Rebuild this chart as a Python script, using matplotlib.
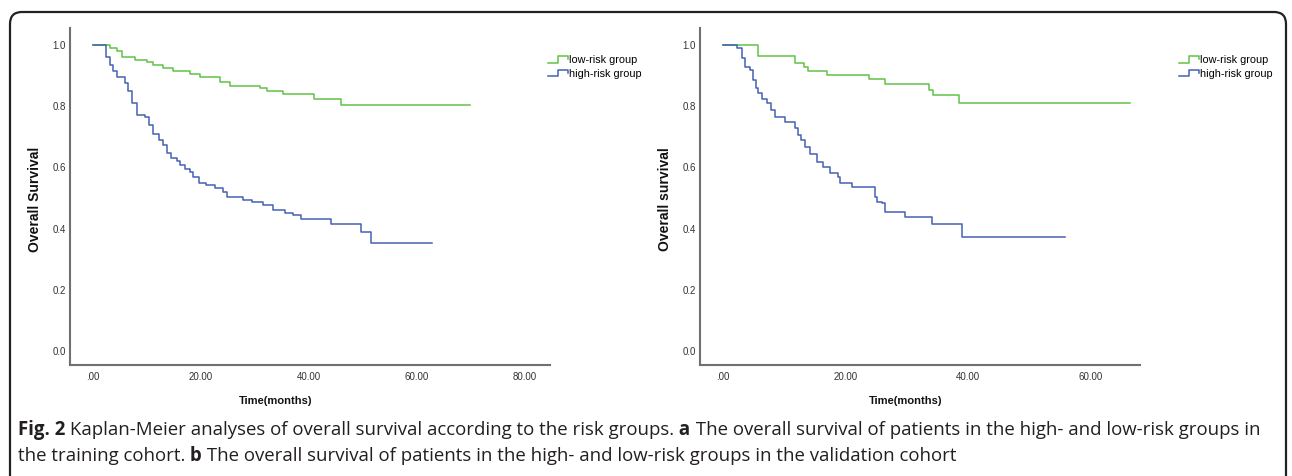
import numpy as np
import matplotlib as mpl
mpl.use('agg')
import matplotlib.pyplot as plt
from matplotlib.patches import FancyBboxPatch
from matplotlib.lines import Line2D
from matplotlib.legend_handler import HandlerBase

# ---- data (months, survival) ----
train_low_t = [0, 3.1, 4.4, 5.4, 7.8, 10.0, 11.1, 13.0, 14.8, 18.0, 19.8, 23.5, 25.4,
               31.0, 32.2, 35.2, 41.0, 46.0, 69.8]
train_low_s = [1.0, 0.99, 0.98, 0.96, 0.95, 0.945, 0.935, 0.925, 0.915, 0.905, 0.895,
               0.88, 0.866, 0.86, 0.85, 0.84, 0.823, 0.804, 0.804]

train_high_t = [0, 2.4, 3.1, 3.7, 4.4, 5.9, 6.5, 7.3, 8.1, 9.6, 10.4, 11.1, 12.2, 13.0,
                13.7, 14.5, 15.5, 16.1, 17.0, 18.0, 18.5, 19.6, 21.0, 22.5, 24.1, 24.8,
                27.8, 29.4, 31.5, 33.3, 35.5, 37.0, 38.5, 44.0, 49.6, 51.5, 62.8]
train_high_s = [1.0, 0.96, 0.935, 0.915, 0.895, 0.876, 0.85, 0.81, 0.77, 0.765, 0.74,
                0.71, 0.69, 0.675, 0.647, 0.63, 0.62, 0.608, 0.595, 0.585, 0.57, 0.55,
                0.543, 0.533, 0.52, 0.503, 0.493, 0.487, 0.477, 0.46, 0.452, 0.445,
                0.43, 0.415, 0.39, 0.353, 0.353]

valid_low_t = [0, 5.7, 11.7, 13.2, 13.9, 17.0, 23.8, 26.4, 33.6, 34.3, 38.5, 66.4]
valid_low_s = [1.0, 0.964, 0.94, 0.93, 0.915, 0.902, 0.889, 0.873, 0.853, 0.837, 0.81, 0.81]

valid_high_t = [0, 2.3, 3.1, 3.6, 4.4, 4.9, 5.4, 5.7, 6.4, 7.2, 7.8, 8.5, 10.1, 11.7,
                12.2, 12.8, 13.4, 14.2, 15.3, 16.3, 17.5, 18.8, 19.1, 21.0, 24.8, 25.1,
                25.9, 26.4, 29.7, 34.1, 39.0, 55.8]
valid_high_s = [1.0, 0.99, 0.957, 0.93, 0.918, 0.885, 0.86, 0.843, 0.823, 0.81, 0.788,
                0.765, 0.75, 0.729, 0.706, 0.69, 0.667, 0.643, 0.618, 0.601, 0.583,
                0.569, 0.549, 0.536, 0.503, 0.487, 0.483, 0.454, 0.438, 0.415, 0.373,
                0.373]

group_labels = ['low-risk group', 'high-risk group']
ytick_vals = [0.0, 0.2, 0.4, 0.6, 0.8, 1.0]
train_xticks = [0, 20, 40, 60, 80]
valid_xticks = [0, 20, 40, 60]

green = '#62c246'
blue = '#4461b5'

W, H = 1292, 476
plt.rcParams['font.family'] = ['Liberation Sans', 'DejaVu Sans']
fig = plt.figure(figsize=(W / 100, H / 100), dpi=100)


class StepHandler(HandlerBase):
    def create_artists(self, legend, orig_handle, xdescent, ydescent, width, height,
                       fontsize, trans):
        lo, hi, mid = 0.15 * height, 0.85 * height, 0.5 * height
        xs = [0, 0.5 * width, 0.5 * width, width, width]
        ys = [lo, lo, hi, hi, mid]
        ln = Line2D(np.array(xs) - xdescent, np.array(ys) - ydescent,
                    color=orig_handle.get_color(), lw=1.1, transform=trans)
        return [ln]


def km_panel(rect, xlim, xticks, low_t, low_s, high_t, high_s, ylabel, leg_xy):
    ax = fig.add_axes(rect)
    l1, = ax.plot(low_t, low_s, drawstyle='steps-post', color=green, lw=1.1)
    l2, = ax.plot(high_t, high_s, drawstyle='steps-post', color=blue, lw=1.1)
    ax.set_xlim(*xlim)
    ax.set_ylim(-0.046, 1.056)
    ax.set_xticks(xticks)
    ax.set_xticklabels(['.00' if v == 0 else f'{v:.2f}' for v in xticks])
    ax.set_yticks(ytick_vals)
    ax.set_yticklabels([f'{v:.1f}' for v in ytick_vals])
    ax.tick_params(length=0, labelsize=7, colors='#333333')
    ax.tick_params(axis='y', pad=3)
    ax.tick_params(axis='x', pad=5)
    for s in ['top', 'right']:
        ax.spines[s].set_visible(False)
    for s in ['left', 'bottom']:
        ax.spines[s].set_color('#707070')
        ax.spines[s].set_linewidth(1.5)
    fig.text(leg_xy[0] / W, 1 - 401 / H, 'Time(months)', ha='center', va='center',
             fontsize=8, fontweight='bold', color='#111111')
    fig.text(rect[0] - 35 / W, 1 - 199 / H, ylabel, rotation=90, ha='center',
             va='center', fontsize=10, fontweight='bold', color='#111111')
    ax.legend([l1, l2], group_labels, handler_map={Line2D: StepHandler()},
              loc='upper left', bbox_to_anchor=(leg_xy[1] / W, 1 - 55 / H),
              bbox_transform=fig.transFigure, frameon=False, fontsize=7.8,
              handlelength=1.8, handleheight=0.9, handletextpad=0.15,
              labelspacing=0.3, borderpad=0, borderaxespad=0)
    return ax


km_panel([70 / W, 111 / H, 480 / W, 337 / H], (-4.26, 84.6), train_xticks,
         train_low_t, train_low_s, train_high_t, train_high_s,
         'Overall Survival', (276, 548))
km_panel([700 / W, 111 / H, 440 / W, 337 / H], (-3.75, 68.0), valid_xticks,
         valid_low_t, valid_low_s, valid_high_t, valid_high_s,
         'Overall survival', (906, 1179))

# outer rounded frame
frame = FancyBboxPatch((10, -30), 1276, H - 12 + 30,
                       boxstyle='round,pad=0,rounding_size=12', transform=None,
                       facecolor='none', edgecolor='#222222', lw=1.6, zorder=10)
fig.patches.append(frame)

# caption with inline bold parts
cap_lines = [
    [('Fig. 2', True), (' Kaplan-Meier analyses of overall survival according to the risk groups.', False),
     (' a', True), (' The overall survival of patients in the high- and low-risk groups in', False)],
    [('the training cohort.', False), (' b', True),
     (' The overall survival of patients in the high- and low-risk groups in the validation cohort', False)],
]
cap_y = [430, 456]
renderer = fig.canvas.get_renderer()
for parts, yy in zip(cap_lines, cap_y):
    x = 18
    for txt, bold in parts:
        t = fig.text(x / W, 1 - yy / H, txt, ha='left', va='center', fontsize=13.4,
                     family=['Open Sans', 'DejaVu Sans'],
                     fontweight='bold' if bold else 'normal', color='#231f20')
        bb = t.get_window_extent(renderer=renderer)
        x = bb.x1

fig.savefig('out.png', dpi=100, facecolor='w')
